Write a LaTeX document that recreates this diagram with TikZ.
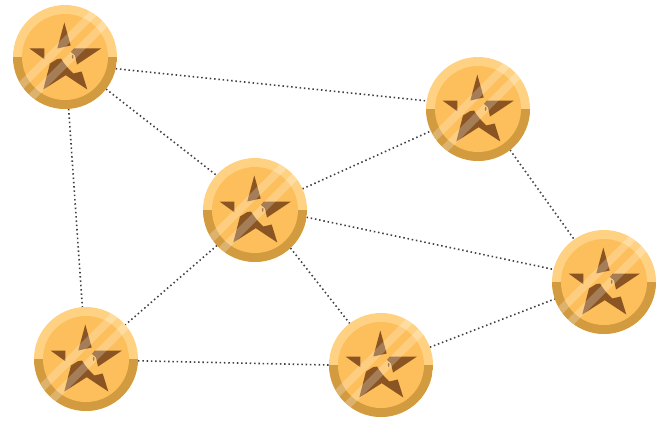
\documentclass[tikz,border=0pt]{standalone}
\usepackage{tikz}
\definecolor{rimlight}{HTML}{FFD283}
\definecolor{rimdark}{HTML}{D39B3F}
\definecolor{coinface}{HTML}{FDBF5C}
\definecolor{starbrown}{HTML}{8A5522}
\definecolor{linkgray}{HTML}{404040}
\tikzset{
  coin/.style ={circle, minimum size=104pt, inner sep=0pt, outer sep=0pt},
  link/.style ={color=linkgray, line width=1.6pt, dash pattern=on 1.5pt off 2.8pt},
  shine/.style={fill=white, fill opacity=0.24},
  coinpic/.pic={
    \fill[rimlight] (0,0) circle (52);
    \begin{scope}
      \clip (0,0) circle (52);
      \fill[rimdark] (-52,0) rectangle (52,52);
    \end{scope}
    \fill[coinface] (0,0) circle (43);
    % star pieces
    \begin{scope}[yshift=-1.5pt]
      \fill[starbrown] (-0.7,-36) -- (5.7,-13) -- (-7.7,-10) -- cycle;
      \fill[starbrown] (-35.5,-10) -- (-20.7,-10) -- (-20.7,0.7) -- cycle;
      \fill[starbrown] (9,-10) -- (36,-10) -- (12,6) -- (10,-3) -- (6,-6.5) -- cycle;
      \fill[starbrown] (-21.7,31) -- (-15,5) -- (-8,0.7) -- (-4,0) -- (-0.7,5) -- (3.3,10)
        -- (8.3,15) -- (16.7,13) -- (22.3,31) -- (0.7,16.7) -- cycle;
      \fill[coinface] (7.7,-1.7) ellipse (1.6 and 2.8);
      \fill[starbrown] (7.7,-1.7) ellipse (0.8 and 2);
    \end{scope}
    % shine bands
    \begin{scope}
      \clip (0,0) circle (52);
      \fill[shine] (-60,39) -- (-60,50) -- (50,-60) -- (39,-60) -- cycle;
      \fill[shine] (-60,61) -- (-60,72) -- (72,-60) -- (61,-60) -- cycle;
    \end{scope}
  }
}
\begin{document}
\begin{tikzpicture}[x=1pt, y=-1pt]
\useasboundingbox (0,0) rectangle (663,420);
\node[coin] (topl) at (65,57) {};
\node[coin] (topr) at (478,109) {};
\node[coin] (mid) at (255,210) {};
\node[coin] (right) at (604,282) {};
\node[coin] (botl) at (86,359) {};
\node[coin] (botm) at (381,365) {};
\draw[link] (topl.-13) -- (topr.171);
\draw[link] (topl.-38) -- (mid.138);
\draw[link] (topl.-86) -- (botl.94);
\draw[link] (mid.24) -- (topr.205);
\draw[link] (mid.-8) -- (right.166);
\draw[link] (mid.223) -- (botl.41);
\draw[link] (mid.-47) -- (botm.127);
\draw[link] (topr.-52) -- (right.125);
\draw[link] (botl.-2) -- (botm.180);
\draw[link] (botm.20) -- (right.199);
\foreach \n in {topl,topr,mid,right,botl,botm}
  \pic at (\n) {coinpic};
\end{tikzpicture}
\end{document}
